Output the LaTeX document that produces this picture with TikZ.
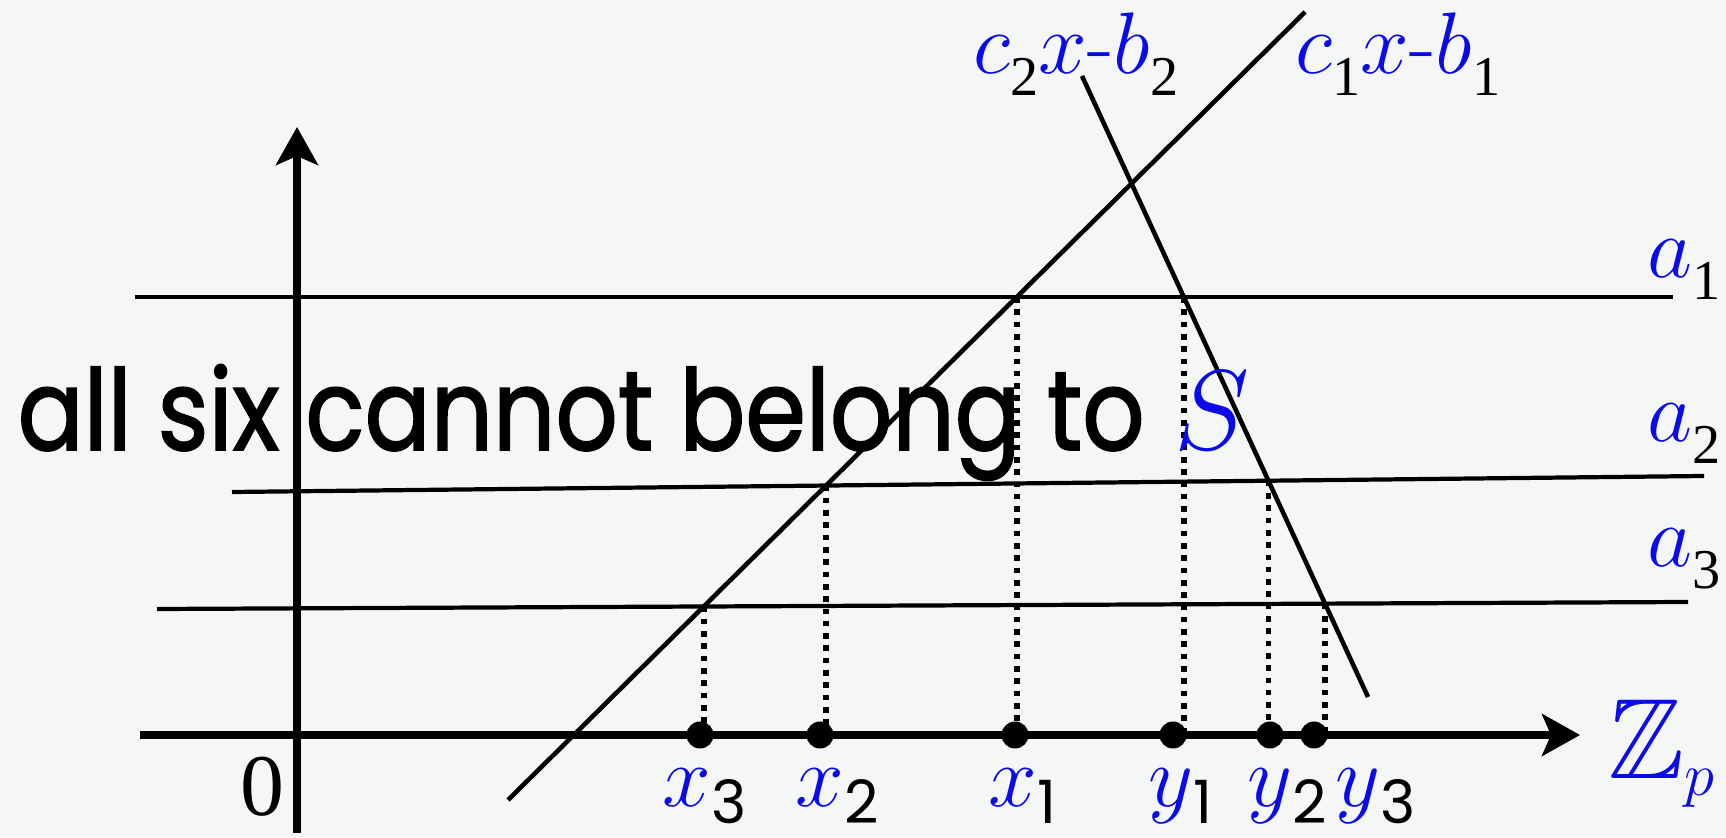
\documentclass[tikz,border=0pt]{standalone}
\usepackage{amssymb}
\usepackage{graphicx}
\usepackage{xcolor}
\usepackage{fontspec}
\usetikzlibrary{arrows.meta}
\usetikzlibrary{intersections}

\newfontfamily\tms{Liberation Serif}
\newfontfamily\handfont{Poppins}[FakeBold=1.6]
\newfontfamily\digfont{Poppins}
\definecolor{slide}{RGB}{245,247,247}
\definecolor{labblue}{RGB}{10,10,235}

\newcommand{\mv}[1]{\textcolor{labblue}{$#1$}}
\newcommand{\tsub}[1]{\raisebox{-6pt}[\height][0pt]{\tms\fontsize{16}{16}\selectfont #1}}
\newcommand{\hsub}[1]{\raisebox{-5pt}[\height][0pt]{\digfont\fontsize{17}{17}\selectfont #1}}

\tikzset{
    axis/.style={line width=2pt,-{Stealth[length=0.38cm,width=0.42cm,inset=0.09cm]}},
    level/.style={line width=1.2pt},
    slant/.style={line width=1.3pt},
    dotline/.style={line width=1.6pt,dash pattern=on 1.6pt off 1.9pt},
    dot/.style={circle,fill=black,inner sep=0pt,minimum size=0.27cm},
    lab/.style={inner sep=0pt,font=\fontsize{25}{25}\selectfont}
}

\begin{document}
\begin{tikzpicture}
    \fill[slide] (0,0) rectangle (17.26,8.37);
    \useasboundingbox (0,0) rectangle (17.26,8.37);

    % the three levels a_1, a_2, a_3
    \draw[level,name path=aone] (1.35,5.40) -- (16.73,5.40);
    \draw[level,name path=atwo] (2.32,3.45) -- (17.04,3.61);
    \draw[level,name path=athree] (1.57,2.28) -- (16.88,2.35);

    % the two lines
    \draw[slant,name path=rise] (5.08,0.37) -- (13.05,8.25);
    \draw[slant,name path=fall] (10.82,7.61) -- (13.68,1.40);

    % axes
    \coordinate (xs) at (1.40,1.02);
    \coordinate (xe) at (15.80,1.02);
    \coordinate (ys) at (2.97,0.04);
    \coordinate (ye) at (2.97,7.10);
    \draw[axis] (xs) -- (xe);
    \draw[axis] (ys) -- (ye);

    % drop the crossings onto the axis
    \path[name intersections={of=rise and athree,by=ix3}];
    \path[name intersections={of=rise and atwo,by=ix2}];
    \path[name intersections={of=rise and aone,by=ix1}];
    \path[name intersections={of=fall and aone,by=iy1}];
    \path[name intersections={of=fall and atwo,by=iy2}];
    \path[name intersections={of=fall and athree,by=iy3}];
    \foreach \p in {ix3,ix2,ix1,iy1,iy2,iy3}{
        \draw[dotline] (\p) -- (\p |- xs);
    }

    % points on Z_p and their names
    \foreach \nm/\px/\lx/\v/\s in {x3/7.00/6.62/x/3,x2/8.20/7.95/x/2,x1/10.15/9.88/x/1,
                                   y1/11.73/11.48/y/1,y2/12.70/12.47/y/2,y3/13.14/13.35/y/3}{
        \node[dot] (d\nm) at (\px,1.02) {};
        \node[lab,anchor=base west] (l\nm) at (\lx,0.31) {\mv{\v}\hsub{\s}};
    }

    \node[lab,anchor=base] (zero) at (2.62,0.22) {\tms 0};
    \node[lab,anchor=base west] (zp) at (16.08,0.59)
        {\textcolor{labblue}{\scalebox{1.3}{$\mathbb{Z}$}}\raisebox{-5pt}{\fontsize{17}{17}\selectfont\mv{p}}};

    \node[lab,anchor=base west] (la1) at (16.47,5.59) {\mv{a}\tsub{1}};
    \node[lab,anchor=base west] (la2) at (16.47,3.95) {\mv{a}\tsub{2}};
    \node[lab,anchor=base west] (la3) at (16.47,2.70) {\mv{a}\tsub{3}};

    \node[lab,anchor=base west] (lc2) at (9.73,7.63)
        {\mv{c}\tsub{2}\mv{x}\textcolor{labblue}{-}\mv{b}\tsub{2}};
    \node[lab,anchor=base west] (lc1) at (12.95,7.63)
        {\mv{c}\tsub{1}\mv{x}\textcolor{labblue}{-}\mv{b}\tsub{1}};

    \node[inner sep=0pt,anchor=base west] (claim) at (0.17,3.87)
        {\resizebox{11.27cm}{\height}{\handfont\fontsize{32}{36}\selectfont all six cannot belong to}};
    \node[lab,anchor=base west] (setS) at (11.74,3.87) {\scalebox{1.3}{\mv{S}}};
\end{tikzpicture}
\end{document}
